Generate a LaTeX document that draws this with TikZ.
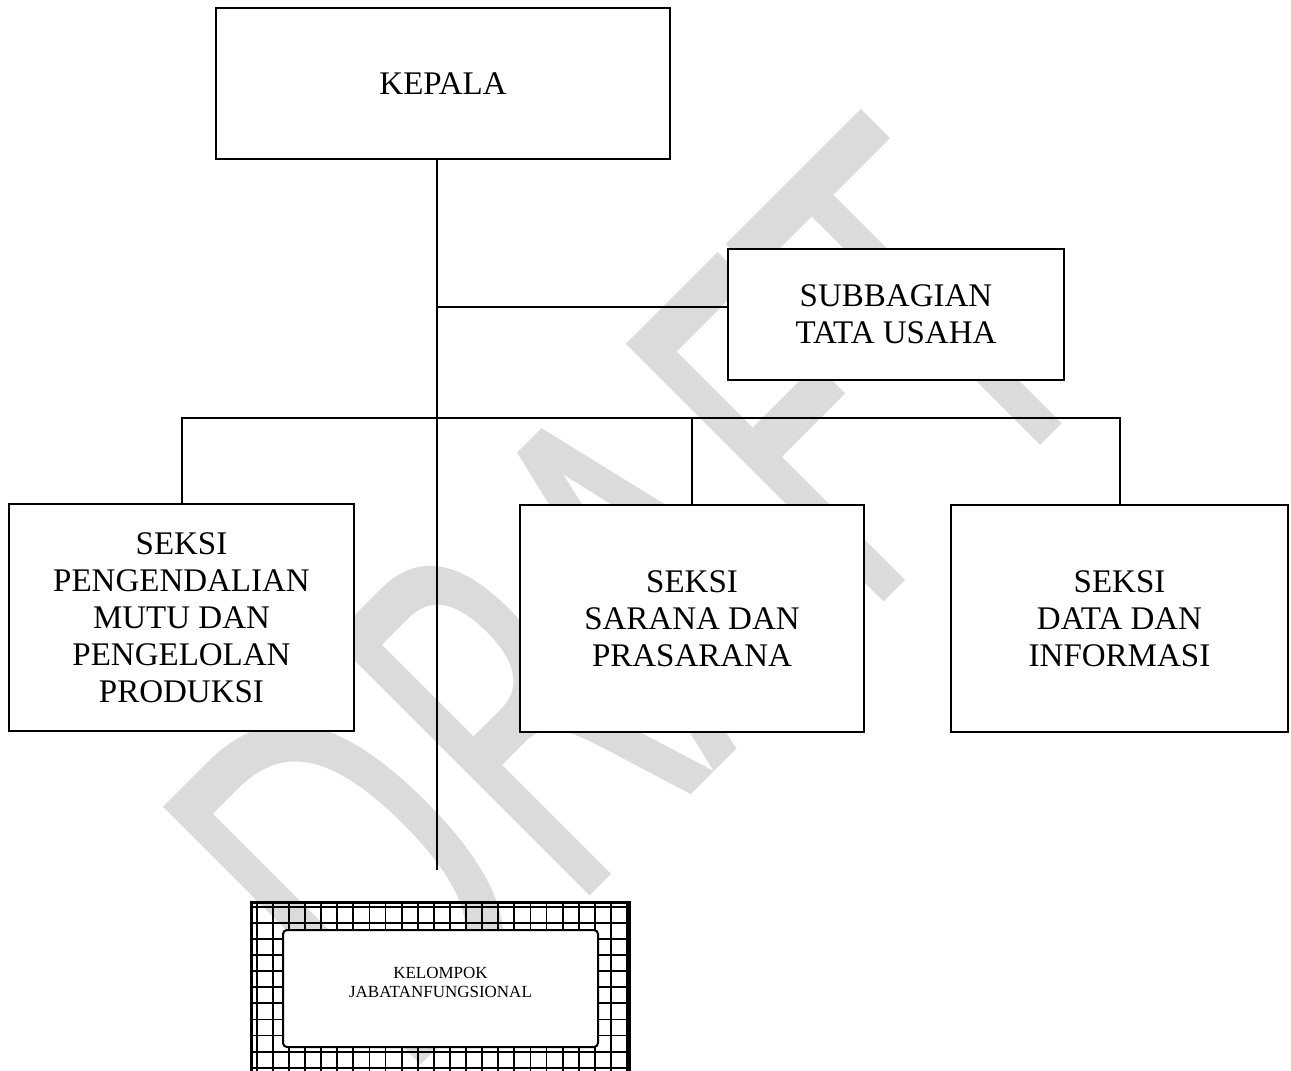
\documentclass[tikz,border=0pt]{standalone}
\usepackage{fontspec}
\setmainfont{Liberation Serif}
\newfontfamily\wmfont{DejaVu Sans}
\begin{document}
\begin{tikzpicture}[x=1pt,y=-1pt,
  unitbox/.style={draw, line width=2.6pt, fill=white, inner sep=0pt, outer sep=0pt,
    align=center, font=\fontsize{33}{37}\selectfont},
  conn/.style={line width=2pt},
  gridline/.style={line width=1.8pt},
  jfbox/.style={draw, line width=2pt, fill=white, rounded corners=4pt, inner sep=0pt,
    outer sep=0pt, align=center, text depth=12pt, font=\fontsize{17}{19.5}\selectfont},
  watermark/.style={rotate=45, xscale=0.62, transform shape, text=gray!28, inner sep=0pt,
    font=\wmfont\fontsize{500}{500}\selectfont}
]
\useasboundingbox (0,0) rectangle (1291,1071);
% watermark
\node[watermark] (wm) at (630,598) {DRAFT};

% connector points
\coordinate (jf) at (437,870);
\coordinate (tj) at (437,307);
\coordinate (bus) at (437,418);

% boxes
\node[unitbox, minimum width=454pt, minimum height=151pt] (kepala) at (443,83.5) {KEPALA};
\node[unitbox, minimum width=336pt, minimum height=131pt] (sub) at (896,314.5) {SUBBAGIAN\\TATA USAHA};
\node[unitbox, minimum width=345pt, minimum height=227pt] (seksiA) at (181.5,617.5)
  {SEKSI\\PENGENDALIAN\\MUTU DAN\\PENGELOLAN\\PRODUKSI};
\node[unitbox, minimum width=344pt, minimum height=227pt] (seksiB) at (692,618.5)
  {SEKSI\\SARANA DAN\\PRASARANA};
\node[unitbox, minimum width=337pt, minimum height=227pt] (seksiC) at (1119.5,618.5)
  {SEKSI\\DATA DAN\\INFORMASI};

% connectors
\draw[conn] (jf |- kepala.south) -- (jf);
\draw[conn] (tj) -- (tj -| sub.west);
\draw[conn] (seksiA.north) -- (seksiA.north |- bus) -- (seksiC.north |- bus) -- (seksiC.north);
\draw[conn] (seksiB.north) -- (seksiB.north |- bus);

% grid frame of the functional group
\begin{scope}
  \clip (251.5,902) rectangle (629,1090);
  \foreach \i in {0,...,23} \draw[gridline] ({256.7+16.1*\i},895) -- ({256.7+16.1*\i},1095);
  \foreach \j in {0,...,11} \draw[gridline] (245,{906.7+16.1*\j}) -- (635,{906.7+16.1*\j});
\end{scope}
\draw[line width=3pt] (251.5,902) rectangle (629,1090);
\node[jfbox, minimum width=315pt, minimum height=117pt] (kjf) at (440.5,988.5)
  {KELOMPOK\\JABATANFUNGSIONAL};
\end{tikzpicture}
\end{document}
